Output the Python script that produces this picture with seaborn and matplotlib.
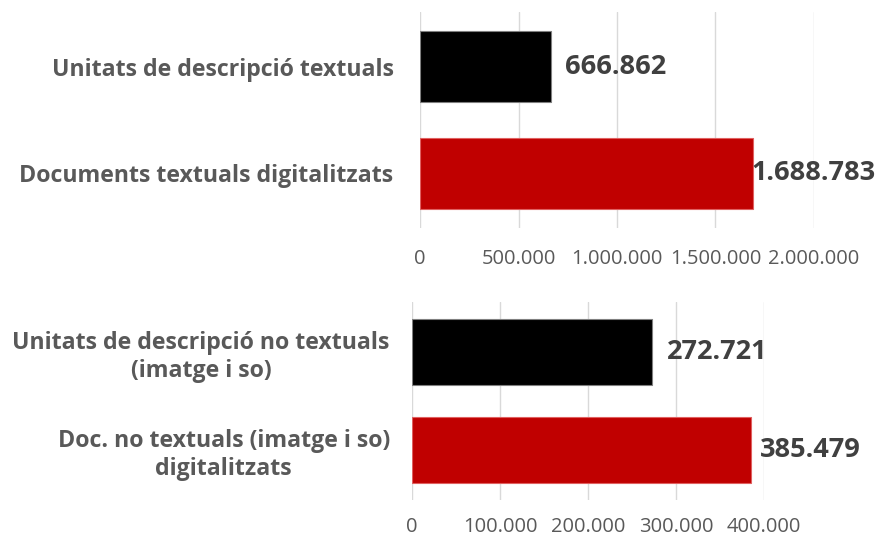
import matplotlib
matplotlib.use("Agg")
import matplotlib.pyplot as plt
import seaborn as sns
import pandas as pd
from matplotlib.ticker import FuncFormatter

# Data
top_categories = ["Unitats de descripció textuals", "Documents textuals digitalitzats"]
top_values = [666862, 1688783]
top_ticks = [0, 500000, 1000000, 1500000, 2000000]

bottom_categories = ["Unitats de descripció no textuals\n(imatge i so)",
                     "Doc. no textuals (imatge i so)\ndigitalitzats"]
bottom_values = [272721, 385479]
bottom_ticks = [0, 100000, 200000, 300000, 400000]

sns.set_theme(style="white")
plt.rcParams["font.family"] = ["Open Sans", "DejaVu Sans"]

BAR_COLORS = ["#000000", "#C00000"]
EDGE_COLORS = ["#7f7f7f", "#e06060"]
LABEL_COLOR = "#595959"
VALUE_COLOR = "#404040"
GRID_COLOR = "#d9d9d9"

def fmt(v):
    return f"{int(v):,}".replace(",", ".")

fig = plt.figure(figsize=(8.81, 5.38), dpi=100)
ax1 = fig.add_axes([420/881, 1-228/538, (814-420)/881, (228-12)/538])
ax2 = fig.add_axes([412/881, 1-500/538, (764-412)/881, (500-302)/538])

def draw(ax, cats, vals, ticks, pads, ypad, xpad):
    df = pd.DataFrame({"cat": cats, "val": vals})
    sns.barplot(data=df, y="cat", x="val", hue="cat", palette=BAR_COLORS,
                orient="h", width=0.67, legend=False, ax=ax, saturation=1)
    for i, cont in enumerate(ax.containers):
        for p in cont:
            p.set_edgecolor(EDGE_COLORS[i])
            p.set_linewidth(0.8)
        ax.bar_label(cont, labels=[fmt(v) for v in cont.datavalues],
                     padding=pads[i], fontsize=19.5, fontweight="bold",
                     color=VALUE_COLOR, clip_on=False)
    ax.set_xlim(ticks[0], ticks[-1])
    ax.set_ylim(1.51, -0.51)
    ax.set_xticks(ticks)
    ax.xaxis.set_major_formatter(FuncFormatter(lambda v, p: fmt(v)))
    ax.grid(axis="x", color=GRID_COLOR, linewidth=1)
    ax.set_axisbelow(True)
    for s in ax.spines.values():
        s.set_visible(False)
    ax.set_xlabel("")
    ax.set_ylabel("")
    ax.tick_params(axis="x", length=0, labelsize=14.5, labelcolor=LABEL_COLOR, pad=xpad)
    ax.tick_params(axis="y", length=0, pad=ypad)
    for lab in ax.get_yticklabels():
        lab.set_fontweight("bold")
        lab.set_fontsize(16.7)
        lab.set_color(LABEL_COLOR)
        lab.set_multialignment("center")

draw(ax1, top_categories, top_values, top_ticks, [10, -1], 19, 15)
draw(ax2, bottom_categories, bottom_values, bottom_ticks, [11, 6], 16, 12)

fig.savefig("out.png", dpi=100)
